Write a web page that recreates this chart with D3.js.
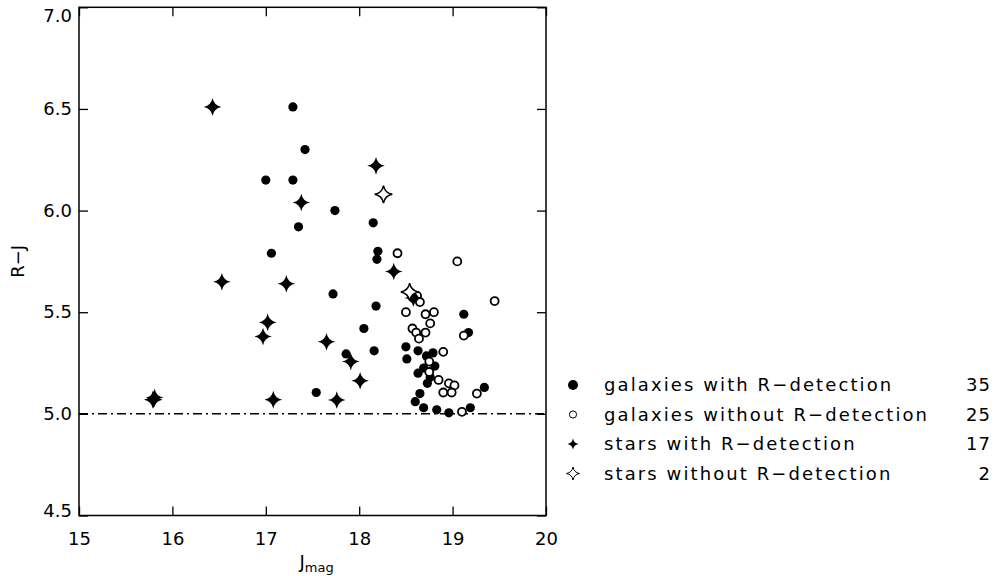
<!DOCTYPE html>
<html>
<head>
<meta charset="utf-8">
<script src="https://cdn.jsdelivr.net/npm/d3@7"></script>
<style>
	body { margin: 0; background: #fff; }
	svg { display: block; font-family: 'DejaVu Sans', sans-serif; }
</style>
</head>
<body>
<div id="chart"></div>
<script>
// galaxies with R-detection  [Jmag, R-J]
const galaxiesDet = [
	[17.29, 6.51], [17.00, 6.15], [17.29, 6.15], [17.42, 6.30], [17.06, 5.79],
	[17.74, 6.00], [17.35, 5.92], [18.15, 5.94], [18.20, 5.80], [18.19, 5.76],
	[17.72, 5.59], [18.18, 5.53], [19.12, 5.49], [18.05, 5.42], [19.17, 5.40],
	[17.86, 5.295], [18.16, 5.31], [17.54, 5.105], [18.50, 5.33], [18.51, 5.27],
	[18.63, 5.31], [18.72, 5.285], [18.79, 5.30], [18.81, 5.235], [18.69, 5.225],
	[18.63, 5.20], [18.76, 5.18], [18.73, 5.15], [19.34, 5.13], [18.65, 5.10],
	[18.60, 5.06], [18.69, 5.03], [18.83, 5.02], [18.96, 5.005], [19.19, 5.03]
];
// galaxies without R-detection
const galaxiesNoDet = [
	[18.41, 5.79], [19.05, 5.75], [18.62, 5.58], [18.65, 5.55], [19.45, 5.555],
	[18.50, 5.50], [18.71, 5.49], [18.80, 5.50], [18.76, 5.445], [18.57, 5.42],
	[18.61, 5.40], [18.64, 5.37], [18.71, 5.40], [19.12, 5.385], [18.90, 5.305],
	[18.75, 5.257], [18.75, 5.206], [18.85, 5.167], [18.96, 5.15], [19.02, 5.14],
	[18.90, 5.105], [18.99, 5.105], [19.26, 5.10], [19.10, 5.01], [18.58, 5.57]
];
// stars with R-detection
const starsDet = [
	[16.43, 6.51], [18.18, 6.22], [17.38, 6.04], [16.53, 5.65], [17.22, 5.64],
	[18.37, 5.70], [17.02, 5.45], [16.97, 5.38], [15.80, 5.07], [15.81, 5.08],
	[17.08, 5.07], [17.65, 5.355], [17.91, 5.257], [18.01, 5.163], [17.76, 5.068],
	[18.58, 5.57], [15.79, 5.07]
];
// stars without R-detection
const starsNoDet = [[18.26, 6.08], [18.54, 5.60]];

const legendLabels = [
	'galaxies with R\u2212detection',
	'galaxies without R\u2212detection',
	'stars with R\u2212detection',
	'stars without R\u2212detection'
];
const legendCounts = [35, 25, 17, 2];

const xTicks = [15, 16, 17, 18, 19, 20];
const yTicks = [4.5, 5.0, 5.5, 6.0, 6.5, 7.0];
const cutLevel = 5.0;

const W = 997, H = 576;
const PLOT = { left: 79, top: 7.3, right: 546, bottom: 515.5 };
const TICK = 9;
const INK = '#000';

// four-pointed star with concave sides
const starSymbol = {
	draw(ctx, size) {
		const r = Math.sqrt(size);
		const k = r * 0.16;
		ctx.moveTo(0, -r);
		ctx.quadraticCurveTo(k, -k, r, 0);
		ctx.quadraticCurveTo(k, k, 0, r);
		ctx.quadraticCurveTo(-k, k, -r, 0);
		ctx.quadraticCurveTo(-k, -k, 0, -r);
		ctx.closePath();
	}
};

const svg = d3.select('#chart').append('svg')
	.attr('width', W)
	.attr('height', H)
	.attr('viewBox', `0 0 ${W} ${H}`);

const x = d3.scaleLinear().domain([15, 20]).range([PLOT.left, PLOT.right]);
const y = d3.scaleLinear().domain([4.5, 7.0]).range([PLOT.bottom, PLOT.top]);

// axes, ticks pointing inward
const gx = svg.append('g')
	.attr('transform', `translate(0,${PLOT.bottom})`)
	.call(d3.axisBottom(x).tickValues(xTicks).tickSizeInner(-TICK).tickSizeOuter(0)
		.tickPadding(17).tickFormat(d3.format('d')));
const gxTop = svg.append('g')
	.attr('transform', `translate(0,${PLOT.top})`)
	.call(d3.axisTop(x).tickValues(xTicks).tickSizeInner(-TICK).tickSizeOuter(0).tickFormat(''));
const gy = svg.append('g')
	.attr('transform', `translate(${PLOT.left},0)`)
	.call(d3.axisLeft(y).tickValues(yTicks).tickSizeInner(-TICK).tickSizeOuter(0)
		.tickPadding(7).tickFormat(d3.format('.1f')));
const gyRight = svg.append('g')
	.attr('transform', `translate(${PLOT.right},0)`)
	.call(d3.axisRight(y).tickValues(yTicks).tickSizeInner(-TICK).tickSizeOuter(0).tickFormat(''));

[gx, gxTop, gy, gyRight].forEach(g => {
	g.select('.domain').remove();
	g.selectAll('.tick line').attr('stroke', INK).attr('stroke-width', 1.3);
	g.selectAll('.tick text')
		.attr('fill', INK)
		.attr('font-size', 18)
		.attr('font-family', "'DejaVu Sans', sans-serif");
});
// end labels pulled inside the frame height, as in the original
gy.selectAll('.tick text')
	.attr('y', d => d === 7.0 ? 8 : d === 4.5 ? -5 : 0);

// frame
svg.append('rect')
	.attr('x', PLOT.left)
	.attr('y', PLOT.top)
	.attr('width', PLOT.right - PLOT.left)
	.attr('height', PLOT.bottom - PLOT.top)
	.attr('fill', 'none')
	.attr('stroke', INK)
	.attr('stroke-width', 1.5);

// axis titles
svg.append('text')
	.attr('transform', `translate(24,${(PLOT.top + PLOT.bottom) / 2}) rotate(-90)`)
	.attr('text-anchor', 'middle')
	.attr('font-size', 18)
	.attr('fill', INK)
	.text('R\u2212J');

const xt = svg.append('text')
	.attr('x', (PLOT.left + PLOT.right) / 2 - 13)
	.attr('y', 568)
	.attr('font-size', 18)
	.attr('fill', INK);
xt.append('tspan').text('J');
xt.append('tspan').attr('dy', 4).attr('font-size', 13).text('mag');

// R-detection limit
svg.append('line')
	.attr('x1', x(15)).attr('x2', x(20))
	.attr('y1', y(cutLevel)).attr('y2', y(cutLevel))
	.attr('stroke', INK)
	.attr('stroke-width', 1.5)
	.attr('stroke-dasharray', '9,4,2,4');

const gShapes = svg.append('g').attr('class', 'shapes');

gShapes.selectAll('circle.gal-det')
	.data(galaxiesDet)
	.join('circle')
	.attr('class', 'gal-det')
	.attr('cx', d => x(d[0]))
	.attr('cy', d => y(d[1]))
	.attr('r', 4.6)
	.attr('fill', INK);

gShapes.selectAll('circle.gal-nodet')
	.data(galaxiesNoDet)
	.join('circle')
	.attr('class', 'gal-nodet')
	.attr('cx', d => x(d[0]))
	.attr('cy', d => y(d[1]))
	.attr('r', 4)
	.attr('fill', '#fff')
	.attr('stroke', INK)
	.attr('stroke-width', 1.8);

const bigStar = d3.symbol().type(starSymbol).size(8.8 * 8.8);

gShapes.selectAll('path.star-det')
	.data(starsDet)
	.join('path')
	.attr('class', 'star-det')
	.attr('transform', d => `translate(${x(d[0])},${y(d[1])})`)
	.attr('d', bigStar)
	.attr('fill', INK);

gShapes.selectAll('path.star-nodet')
	.data(starsNoDet)
	.join('path')
	.attr('class', 'star-nodet')
	.attr('transform', d => `translate(${x(d[0])},${y(d[1])})`)
	.attr('d', bigStar)
	.attr('fill', '#fff')
	.attr('stroke', INK)
	.attr('stroke-width', 1.5);

// legend
const LEG = { symX: 573, textX: 604, numX: 991, y0: 391, dy: 29.5 };
const legend = svg.append('g').attr('class', 'legend');
const rows = legend.selectAll('g.row')
	.data(legendLabels.map((label, i) => ({ label, count: legendCounts[i], i })))
	.join('g')
	.attr('class', 'row')
	.attr('transform', d => `translate(0,${LEG.y0 + d.i * LEG.dy})`);

rows.append('text')
	.attr('x', LEG.textX)
	.attr('font-size', 18)
	.attr('letter-spacing', 2.1)
	.attr('fill', INK)
	.text(d => d.label);
rows.append('text')
	.attr('x', LEG.numX)
	.attr('text-anchor', 'end')
	.attr('font-size', 18)
	.attr('letter-spacing', 1)
	.attr('fill', INK)
	.text(d => d.count);

const smallStar = d3.symbol().type(starSymbol).size(5.5 * 5.5);
rows.filter(d => d.i === 0).append('circle')
	.attr('cx', LEG.symX).attr('cy', -6).attr('r', 5).attr('fill', INK);
rows.filter(d => d.i === 1).append('circle')
	.attr('cx', LEG.symX).attr('cy', -6).attr('r', 3.6)
	.attr('fill', 'none').attr('stroke', INK).attr('stroke-width', 1);
rows.filter(d => d.i === 2).append('path')
	.attr('transform', `translate(${LEG.symX},-6)`)
	.attr('d', smallStar).attr('fill', INK);
rows.filter(d => d.i === 3).append('path')
	.attr('transform', `translate(${LEG.symX},-6)`)
	.attr('d', d3.symbol().type(starSymbol).size(6.5 * 6.5))
	.attr('fill', 'none').attr('stroke', INK).attr('stroke-width', 1);
</script>
</body>
</html>
